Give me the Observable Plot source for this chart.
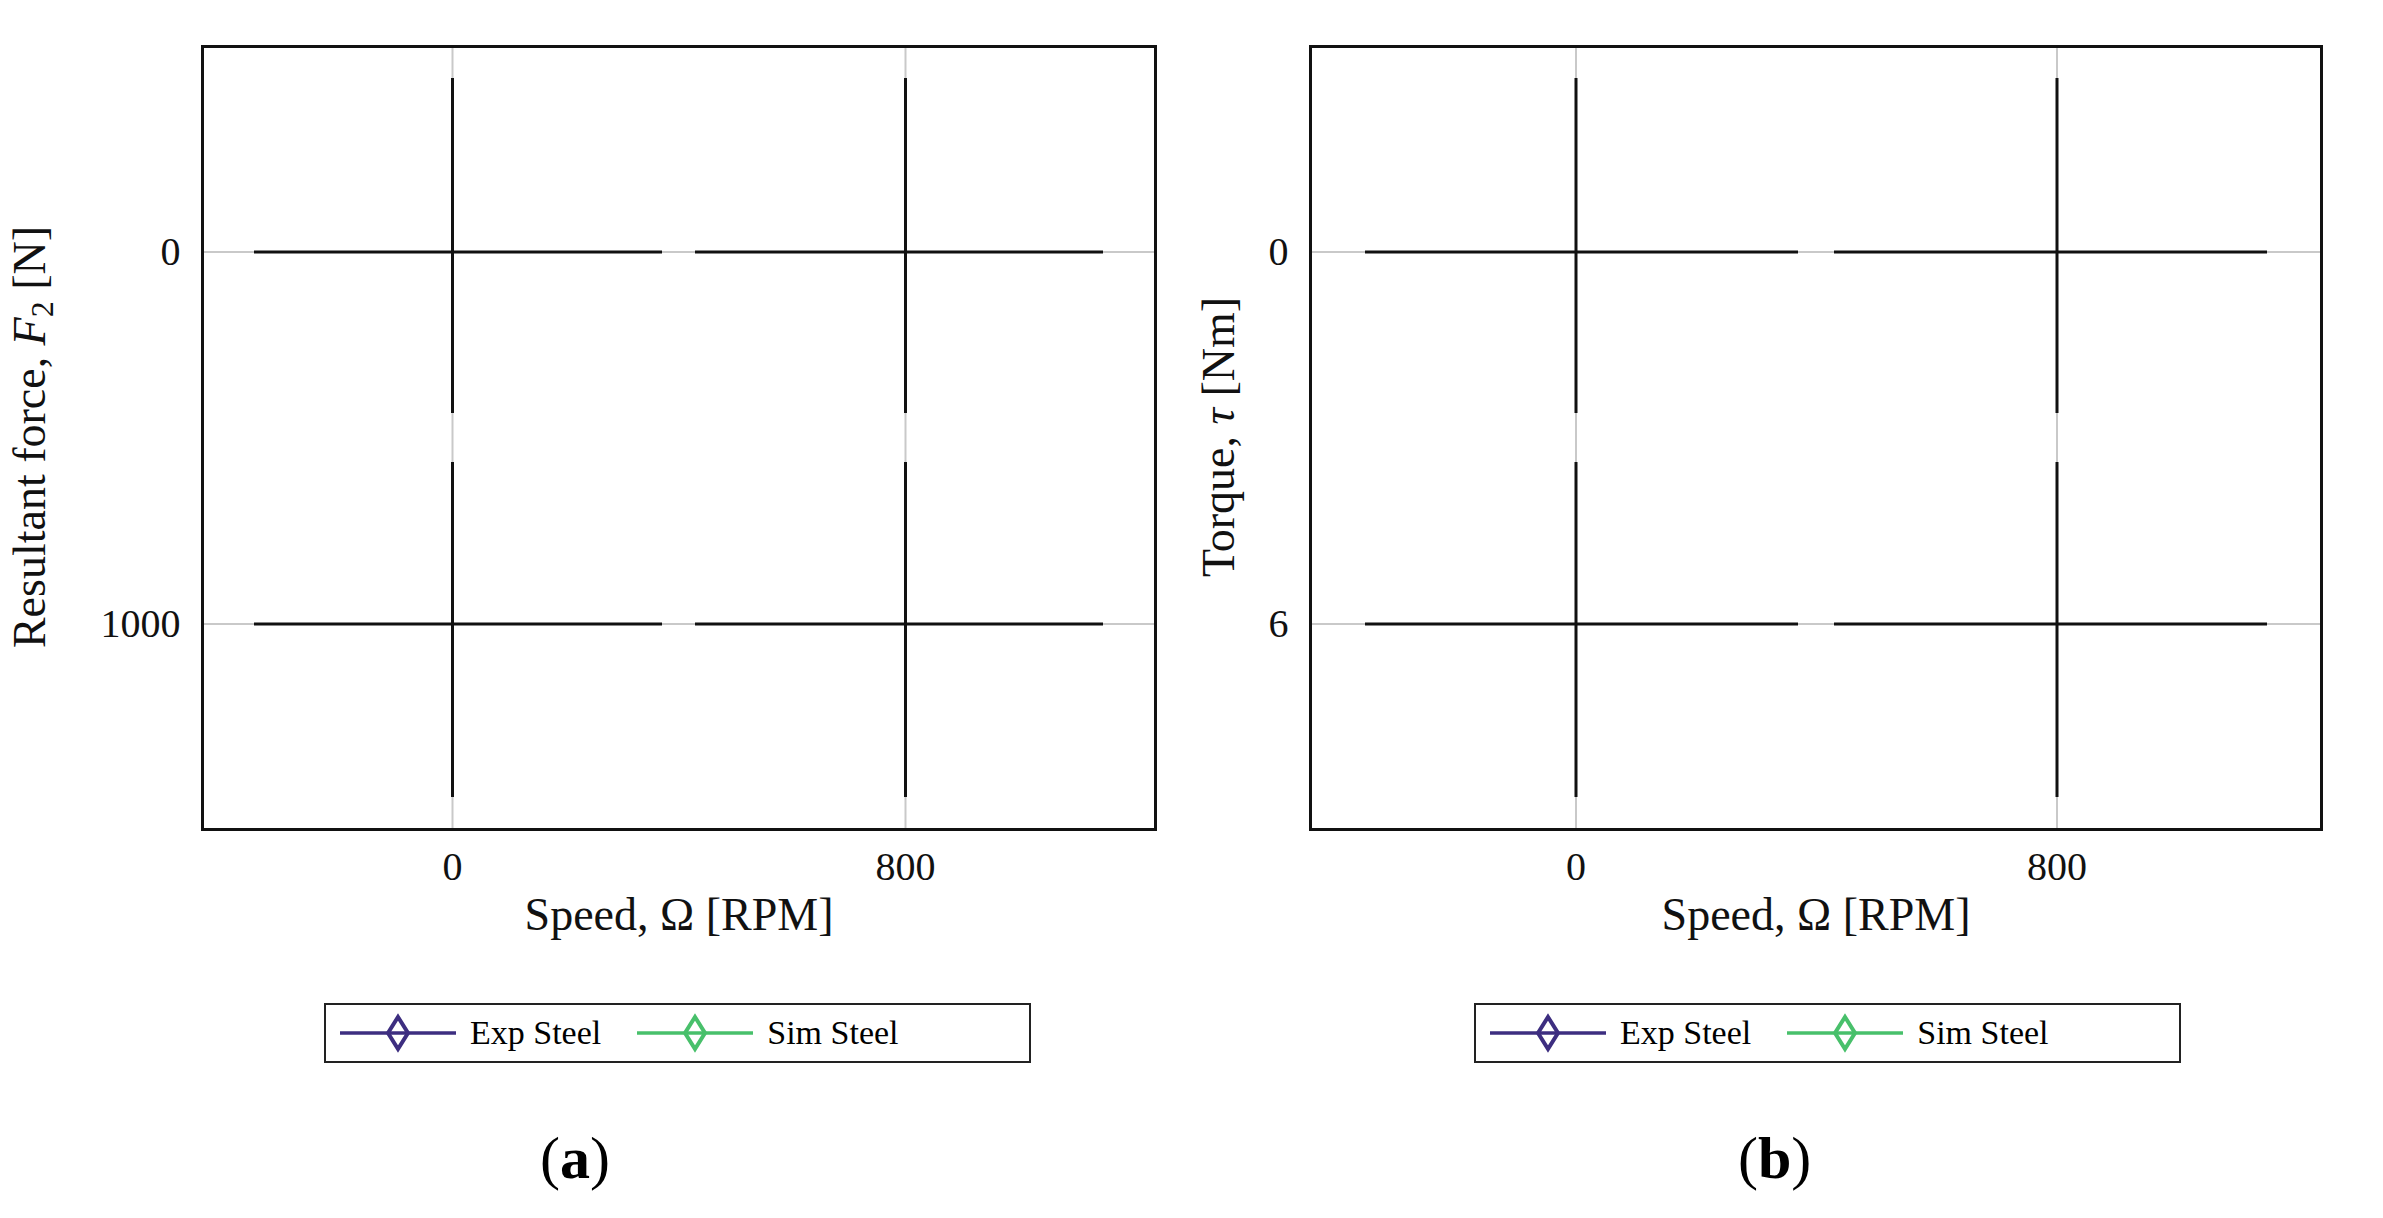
<!DOCTYPE html>
<html><head><meta charset="utf-8">
<script src="https://cdn.jsdelivr.net/npm/d3@7"></script>
<script src="https://cdn.jsdelivr.net/npm/@observablehq/plot@0.6"></script>
<style>
body{margin:0;background:#fff;font-family:"Liberation Serif",serif;}
#wrap{position:relative;width:2383px;height:1218px;}
.p{position:absolute;top:0;}
.leg{position:absolute;top:1003px;height:56px;border:2px solid #222;display:flex;align-items:center;font-size:34px;background:#fff;}
.leg span{margin-right:22px;}
.lab{position:absolute;top:1124px;font-size:60px;font-family:"Liberation Serif",serif;}
</style></head><body>
<div id="wrap"></div>
<script>
const expSpeed=[160,182,207,255,305,350,402,407,425,450,475,498,550,600,688];
const expForce=[45,55,70,105,145,183,255,293,323,358,388,412,490,565,727];
const simSpeed=[250,300,350,375,400,425,450,475,500,600,700];
const simForce=[127,177,228,250,250,408,448,483,523,727,973];
const expTorque=[0.71,0.87,1.03,1.35,1.68,1.98,3.27,3.81,3.89,3.86,3.91,3.99,4.32,4.72,5.58];
const simTorque=[0.62,0.55,0.40,0.91,1.20,3.29,2.37,2.29,2.35,3.44,4.15];
const xTicks=[0,100,200,300,400,500,600,700,800];
const C_EXP="#3d2e80", C_SIM="#48c06b";
const diamond={draw(ctx,size){const r=Math.sqrt(size/Math.PI);ctx.moveTo(0,-r*1.35);ctx.lineTo(r*0.8,0);ctx.lineTo(0,r*1.35);ctx.lineTo(-r*0.8,0);ctx.closePath();}};
function series(xs,ys,color){const d=xs.map((x,i)=>({x,y:ys[i]}));
 return [Plot.line(d,{x:"x",y:"y",stroke:color,strokeWidth:3.5}),
         Plot.dot(d,{x:"x",y:"y",stroke:color,strokeWidth:4,r:12,symbol:diamond,fill:"none"})];}
const fmt=d3.format("d");
function make(opts){
 return Plot.plot({width:opts.w,height:1000,marginLeft:opts.ml,marginRight:opts.mr,marginTop:46,marginBottom:171,
  style:{fontFamily:"Liberation Serif, serif",fontSize:"40px",color:"#111",background:"transparent"},
  x:{domain:[0,800],ticks:xTicks},
  y:{domain:opts.yd,ticks:opts.yt},
  marks:[
   Plot.gridX(xTicks,{stroke:"#bbb",strokeOpacity:0.8,strokeWidth:2}),
   Plot.gridY(opts.yt,{stroke:"#bbb",strokeOpacity:0.8,strokeWidth:2}),
   Plot.axisX(xTicks,{anchor:"bottom",tickSize:0,tickPadding:22,tickFormat:fmt,label:null,fontSize:40}),
   Plot.text(["Speed, Ω [RPM]"],{frameAnchor:"bottom",dy:100,fontSize:46,fill:"#111"}),
   Plot.tickX(xTicks,{x:d=>d,y:opts.yd[0],dy:-6,stroke:"#111",strokeWidth:3}),
   Plot.tickX(xTicks,{x:d=>d,y:opts.yd[1],dy:6,stroke:"#111",strokeWidth:3}),
   Plot.axisY(opts.yt,{anchor:"left",tickSize:0,tickPadding:22,tickFormat:fmt,label:null,fontSize:40}),
   Plot.tickY(opts.yt,{y:d=>d,x:0,dx:6,stroke:"#111",strokeWidth:3}),
   Plot.tickY(opts.yt,{y:d=>d,x:800,dx:-6,stroke:"#111",strokeWidth:3}),
   Plot.frame({stroke:"#111",strokeWidth:3}),
   ...series(opts.ex,opts.ey,C_EXP),
   ...series(opts.sx,opts.sy,C_SIM)
  ]});
}
const wrap=document.getElementById("wrap");
function place(svg,left,ylab,ylabX){
 const d=document.createElement("div");d.className="p";d.style.left=left+"px";d.appendChild(svg);wrap.appendChild(d);
 const t=document.createElementNS("http://www.w3.org/2000/svg","text");
 t.setAttribute("transform",`translate(${ylabX},437) rotate(-90)`);t.setAttribute("text-anchor","middle");
 t.setAttribute("font-size","46");t.setAttribute("fill","#111");t.innerHTML=ylab;svg.appendChild(t);
}
place(make({w:1190,ml:202,mr:35,yd:[0,1000],yt:[0,200,400,600,800,1000],ex:expSpeed,ey:expForce,sx:simSpeed,sy:simForce}),0,
 'Resultant force, <tspan font-style="italic">F</tspan><tspan font-size="32" dy="8">2</tspan><tspan dy="-8"> [N]</tspan>',45);
place(make({w:1193,ml:120,mr:62,yd:[0,6],yt:[0,1,2,3,4,5,6],ex:expSpeed,ey:expTorque,sx:simSpeed,sy:simTorque}),1190,
 'Torque, <tspan font-style="italic">τ</tspan> [Nm]',44);
function legend(left,width){
 const d=document.createElement("div");d.className="leg";d.style.left=left+"px";d.style.width=width+"px";
 const sym=c=>`<svg width="120" height="40" style="margin:0 12px 0 12px"><line x1="2" x2="118" y1="20" y2="20" stroke="${c}" stroke-width="3.5"/><path d="M60,4 L70,20 L60,36 L50,20Z" fill="none" stroke="${c}" stroke-width="4"/></svg>`;
 d.innerHTML=sym(C_EXP)+"<span>Exp Steel</span>"+sym(C_SIM)+"<span>Sim Steel</span>";
 wrap.appendChild(d);
}
legend(324,703);legend(1474,703);
const a=document.createElement("div");a.className="lab";a.style.left="540px";a.innerHTML="(<b>a</b>)";wrap.appendChild(a);
const b=document.createElement("div");b.className="lab";b.style.left="1738px";b.innerHTML="(<b>b</b>)";wrap.appendChild(b);
</script></body></html>
